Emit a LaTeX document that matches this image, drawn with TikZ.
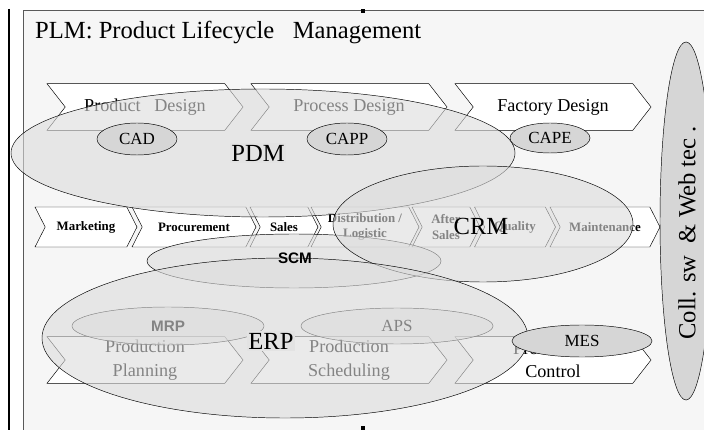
\documentclass[tikz,border=0pt]{standalone}
\usepackage{fontspec}
\setmainfont{Liberation Serif}
\newfontfamily\plmsans{Liberation Sans}
\usetikzlibrary{shapes.geometric,shapes.symbols}
\definecolor{framebg}{HTML}{F6F6F6}
\definecolor{overlay}{HTML}{DCDCDC}
\definecolor{toolgray}{HTML}{D6D6D6}
\definecolor{labelbg}{HTML}{E3E3E3}
\begin{document}
\begin{tikzpicture}
[x=0.03cm, y=-0.03cm, font=\fontsize{15.5}{20}\selectfont]
\tikzstyle{phase}=[signal, signal to=east, signal from=west, draw, fill=white, inner sep=0pt, minimum width=5.88cm, minimum height=1.4cm, signal pointer angle=104, align=center]
\tikzstyle{activity}=[signal, signal to=east, signal from=west, draw, fill=white, inner sep=0pt, minimum height=1.2cm, signal pointer angle=126, align=center, font=\bfseries\fontsize{11}{13}\selectfont]
\tikzstyle{sysarea}=[ellipse, draw, fill=overlay, fill opacity=0.6, text opacity=1, inner sep=0pt]
\tikzstyle{tool}=[ellipse, draw, fill=toolgray, inner sep=0pt, font=\fontsize{14.5}{14.5}\selectfont]
\tikzstyle{biglabel}=[inner sep=1.5pt, font=\fontsize{21}{21}\selectfont]
\useasboundingbox (0,0) rectangle (704,430);
\fill[framebg] (23,10) rectangle (704,430);
\draw[black!65] (704,10) -- (23,10) -- (23,430);
\draw[line width=1.6pt] (9,9) -- (9,430);
\fill (361,9) rectangle (365,13);
\fill (361,426) rectangle (365,430);

\node[anchor=base west, inner sep=0pt, font=\fontsize{21}{21}\selectfont] (title) at (35,39) {PLM: Product Lifecycle \ \ Management};

\node[phase] (T1) at (145,107) {Product \ \ Design};
\node[phase] (T2) at (349,107) {Process Design};
\node[phase] (T3) at (553,107) {Factory Design};

\node[activity, minimum width=3.06cm] (M1) at (86,227)  {Marketing};
\node[activity, minimum width=3.72cm] (M2) at (194,227) {Procurement};
\node[activity, minimum width=2.04cm] (M3) at (284,227) {Sales};
\node[activity, minimum width=3.24cm] (M4) at (365,227) {Distribution /\\Logistic};
\node[activity, minimum width=2.04cm] (M5) at (446,227) {After\\Sales};
\node[activity, minimum width=2.43cm] (M6) at (515,227) {Quality};
\node[activity, minimum width=3.30cm] (M7) at (605,227) {Maintenance};

\node[phase] (B1) at (145,360) {Production\\Planning};
\node[phase] (B2) at (349,360) {Production\\Scheduling};
\node[phase] (B3) at (553,360) {Production\\Control};

\node[sysarea, minimum width=8.82cm, minimum height=1.62cm] (SCM) at (294,261) {};
\node[sysarea, minimum width=5.76cm, minimum height=1.14cm, font=\plmsans\bfseries\fontsize{13}{13}\selectfont] (MRP) at (168,326) {MRP};
\node[sysarea, minimum width=5.76cm, minimum height=1.08cm, font=\fontsize{14.5}{14.5}\selectfont] (APS) at (397,326) {APS};

\node[sysarea, minimum width=15.12cm, minimum height=3.84cm] (PDM) at (263,153) {};
\node[sysarea, minimum width=9cm, minimum height=3.48cm] (CRM) at (483,224) {};
\node[sysarea, minimum width=14.58cm, minimum height=4.8cm] (ERP) at (285,338) {};

\node[tool, minimum width=2.4cm, minimum height=0.96cm] (CAD) at (137,139) {CAD};
\node[tool, minimum width=2.4cm, minimum height=0.96cm] (CAPP) at (347,139) {CAPP};
\node[tool, minimum width=2.4cm, minimum height=0.9cm] (CAPE) at (550,138) {CAPE};
\node[tool, minimum width=4.2cm, minimum height=0.96cm] (MES) at (582,341) {MES};

\node[biglabel, fill=labelbg] (PDMlabel) at (258,153) {PDM};
\node[biglabel] (CRMlabel) at (481,226) {CRM};
\node[biglabel, fill=labelbg] (ERPlabel) at (271,341) {ERP};
\node[inner sep=0pt, font=\plmsans\bfseries\fontsize{13}{13}\selectfont] (SCMlabel) at (295,258) {SCM};

\node[ellipse, draw, fill=toolgray, inner sep=0pt, minimum width=1.56cm, minimum height=10.74cm] (COLL) at (686,221) {};
\node[rotate=90, inner sep=0pt, font=\fontsize{21}{21}\selectfont] (COLLlabel) at (687,233) {Coll. sw \ \& Web tec .};
\end{tikzpicture}
\end{document}
